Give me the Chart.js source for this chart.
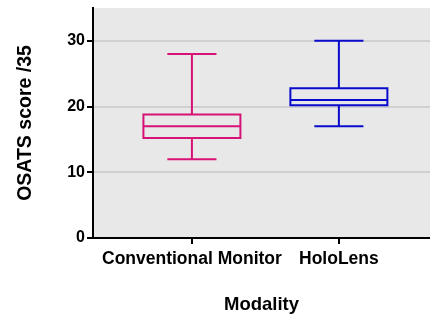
<!DOCTYPE html>
<html>
<head>
<meta charset="utf-8">
<script src="https://cdn.jsdelivr.net/npm/chart.js@4"></script>
<style>
  html, body { margin: 0; padding: 0; background: #fff; }
  #wrap { width: 430px; height: 320px; }
</style>
</head>
<body>
<div id="wrap"><canvas id="box"></canvas></div>
<script>
// box plot values
const categories = ['Conventional Monitor', 'HoloLens'];
const whiskerLow = [12, 17];
const q1 = [15.2, 20.2];
const median = [17, 21];
const q3 = [18.8, 22.8];
const whiskerHigh = [28, 30];
const colors = ['rgb(214,18,118)', 'rgb(10,10,205)'];
const yTicks = [0, 10, 20, 30];

const boxHalf = 0.33;
const capHalf = 0.167;

const plotBg = {
  id: 'plotBg',
  beforeDraw(chart) {
    const a = chart.chartArea, c = chart.ctx;
    c.save();
    c.fillStyle = '#e8e8e8';
    c.fillRect(a.left, a.top, a.right - a.left, a.bottom - a.top);
    c.restore();
  }
};

const boxes = {
  id: 'boxes',
  afterDatasetsDraw(chart) {
    const x = chart.scales.x, y = chart.scales.y, c = chart.ctx;
    c.save();
    c.lineWidth = 2;
    categories.forEach((cat, i) => {
      c.strokeStyle = colors[i];
      const xl = x.getPixelForValue(i - boxHalf), xr = x.getPixelForValue(i + boxHalf);
      const cl = x.getPixelForValue(i - capHalf), cr = x.getPixelForValue(i + capHalf);
      const xm = x.getPixelForValue(i);
      const yq1 = y.getPixelForValue(q1[i]), yq3 = y.getPixelForValue(q3[i]);
      const ym = y.getPixelForValue(median[i]);
      const ylo = y.getPixelForValue(whiskerLow[i]), yhi = y.getPixelForValue(whiskerHigh[i]);
      c.beginPath();
      c.rect(xl, yq3, xr - xl, yq1 - yq3);
      c.moveTo(xl, ym); c.lineTo(xr, ym);
      c.moveTo(xm, yq3); c.lineTo(xm, yhi);
      c.moveTo(cl, yhi); c.lineTo(cr, yhi);
      c.moveTo(xm, yq1); c.lineTo(xm, ylo);
      c.moveTo(cl, ylo); c.lineTo(cr, ylo);
      c.stroke();
    });
    c.restore();
  }
};

const ctx = document.getElementById('box').getContext('2d');
new Chart(ctx, {
  type: 'scatter',
  data: {
    datasets: [{
      data: categories.map((c, i) => ({x: i, y: whiskerHigh[i]})),
      pointRadius: 0,
      showLine: false
    }]
  },
  options: {
    responsive: true,
    maintainAspectRatio: false,
    animation: false,
    layout: { padding: { top: 8, right: 0, left: 0, bottom: 0 } },
    plugins: { legend: { display: false }, tooltip: { enabled: false } },
    scales: {
      x: {
        type: 'linear',
        min: -0.673,
        max: 1.62,
        afterBuildTicks: s => { s.ticks = categories.map((c, i) => ({value: i})); },
        afterFit: s => { s.height = 82; s.paddingLeft = 0; s.paddingRight = 0; },
        ticks: {
          callback: v => categories[v],
          color: '#000',
          font: { family: 'Liberation Sans, Arial', size: 17.5, weight: 'bold' },
          padding: 5,
          maxRotation: 0,
          autoSkip: false
        },
        grid: { drawOnChartArea: false, drawTicks: true, tickLength: 6, tickColor: '#000', lineWidth: 2 },
        border: { display: true, color: '#000', width: 2 },
        title: {
          display: true,
          text: 'Modality',
          color: '#000',
          font: { family: 'Liberation Sans, Arial', size: 18.5, weight: 'bold' },
          padding: { top: 0, bottom: 4 }
        }
      },
      y: {
        min: 0,
        max: 35,
        afterBuildTicks: s => { s.ticks = yTicks.map(v => ({value: v})); },
        afterFit: s => { s.width = 93; s.paddingTop = 0; s.paddingBottom = 0; },
        ticks: {
          color: '#000',
          font: { family: 'Liberation Sans, Arial', size: 16, weight: 'bold' },
          padding: 2
        },
        grid: {
          color: c => c.tick && c.tick.value === 0 ? 'rgba(0,0,0,0)' : '#d0d0d0',
          tickColor: '#000',
          tickLength: 6,
          lineWidth: 2
        },
        border: { display: true, color: '#000', width: 2 },
        title: {
          display: true,
          text: 'OSATS score /35',
          color: '#000',
          font: { family: 'Liberation Sans, Arial', size: 19.5, weight: 'bold' },
          padding: { top: 14, bottom: 0 }
        }
      }
    }
  },
  plugins: [plotBg, boxes]
});
</script>
</body>
</html>
